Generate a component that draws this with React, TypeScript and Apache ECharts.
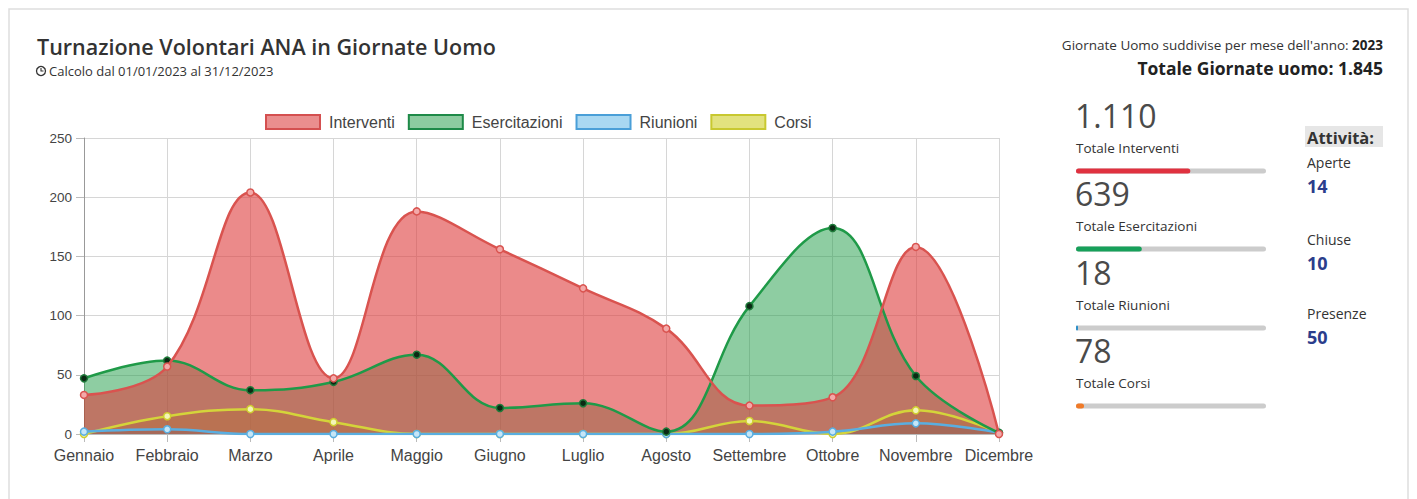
import React, { useEffect, useRef } from "react";
import * as echarts from "echarts";

const months = ["Gennaio", "Febbraio", "Marzo", "Aprile", "Maggio", "Giugno", "Luglio", "Agosto", "Settembre", "Ottobre", "Novembre", "Dicembre"];
const interventi = [33, 57, 204, 47, 188, 156, 123, 89, 24, 31, 158, 0];
const esercitazioni = [47, 62, 37, 44, 67, 22, 26, 2, 108, 174, 49, 1];
const riunioni = [2, 4, 0, 0, 0, 0, 0, 0, 0, 2, 9, 1];
const corsi = [0, 15, 21, 10, 0, 0, 0, 0, 11, 0, 20, 1];
const seriesNames = ["Interventi", "Esercitazioni", "Riunioni", "Corsi"];
const statLabels = ["Totale Interventi", "Totale Esercitazioni", "Totale Riunioni", "Totale Corsi"];
const activityLabels = ["Aperte", "Chiuse", "Presenze"];
const activityValues = [14, 10, 50];
const year = 2023;
const periodText = "Calcolo dal 01/01/2023 al 31/12/2023";

const sum = (a: number[]) => a.reduce((s, v) => s + v, 0);
const fmt = (n: number) => String(n).replace(/\B(?=(\d{3})+(?!\d))/g, ".");

export default function App() {
  const ref = useRef<HTMLDivElement>(null);
  useEffect(() => {
    if (!ref.current) return;
    const chart = echarts.init(ref.current, null, { renderer: "svg" });
    const datasets = [interventi, esercitazioni, riunioni, corsi];
    const styles = [
      { line: "#d9534f", fill: "rgba(221,60,60,0.6)", pt: "#f3a9a9", ptB: "#d9534f", legFill: "#ea8e8e", legB: "#d45050", bar: "#e0313f" },
      { line: "#1f9a48", fill: "rgba(30,155,70,0.5)", pt: "#0b2a14", ptB: "#1f7a3a", legFill: "#8dcca0", legB: "#1e8a48", bar: "#17a05a" },
      { line: "#5aaee0", fill: "rgba(70,160,220,0.6)", pt: "#c6e6f7", ptB: "#5aaee0", legFill: "#a9d8f2", legB: "#4a9fd8", bar: "#2d8fc8" },
      { line: "#d4d43a", fill: "rgba(220,220,70,0.5)", pt: "#f4f4b8", ptB: "#cfcf30", legFill: "#e2e27e", legB: "#c8c830", bar: "#f07a28" },
    ];
    const totals = datasets.map(sum);
    const grand = sum(totals);
    const OS = "'Open Sans'";

    const series: any[] = [];
    datasets.forEach((d, i) => {
      series.push({
        name: seriesNames[i], type: "line", data: d, smooth: 0.4, symbol: "none",
        lineStyle: { width: 0 }, areaStyle: { color: styles[i].fill, opacity: 1 },
        z: 5 - i, silent: true,
      });
    });
    datasets.forEach((d, i) => {
      series.push({
        name: seriesNames[i], type: "line", data: d, smooth: 0.4, symbol: "circle", symbolSize: 7,
        lineStyle: { width: 2.5, color: styles[i].line },
        itemStyle: { color: styles[i].pt, borderColor: styles[i].ptB, borderWidth: 1.5 },
        z: 15 - i, silent: true,
      });
    });

    const graphic: any[] = [
      { type: "rect", z: -10, shape: { x: 1, y: 1, width: 1399, height: 500 }, style: { fill: "#fff", stroke: "#dedede", lineWidth: 1.5 } },
      { type: "text", x: 29, y: 38, style: { text: "Turnazione Volontari ANA in Giornate Uomo", font: `600 21.5px ${OS}`, fill: "#333", textVerticalAlign: "middle" } },
      { type: "circle", shape: { cx: 33, cy: 63, r: 4.5 }, style: { fill: "none", stroke: "#333", lineWidth: 1.3 } },
      { type: "polyline", shape: { points: [[33, 60], [33, 63], [35.5, 63]] }, style: { fill: "none", stroke: "#333", lineWidth: 1.1 } },
      { type: "text", x: 41, y: 63, style: { text: periodText, font: `13px ${OS}`, fill: "#333", textVerticalAlign: "middle" } },
      {
        type: "text", x: 1375, y: 37,
        style: {
          text: "{a|Giornate Uomo suddivise per mese dell'anno: }{b|" + year + "}", textAlign: "right", textVerticalAlign: "middle",
          rich: { a: { font: `13.5px ${OS}`, fill: "#333", color: "#333" }, b: { font: `bold 13.5px ${OS}`, fill: "#222", color: "#222" } },
        },
      },
      { type: "text", x: 1375, y: 60, style: { text: "Totale Giornate uomo: " + fmt(grand), font: `bold 17.5px ${OS}`, fill: "#222", textAlign: "right", textVerticalAlign: "middle" } },
      { type: "rect", shape: { x: 1297, y: 118, width: 78, height: 21 }, style: { fill: "#e6e6e6" } },
      { type: "text", x: 1299, y: 129, style: { text: "Attività:", font: `bold 16.5px ${OS}`, fill: "#333", textVerticalAlign: "middle" } },
    ];
    const numY = [107, 185, 264, 342];
    numY.forEach((y, i) => {
      graphic.push({ type: "text", x: 1067, y, style: { text: fmt(totals[i]), font: `32px ${OS}`, fill: "#4a4a4a", textVerticalAlign: "middle" } });
      graphic.push({ type: "text", x: 1068, y: y + 33, style: { text: statLabels[i], font: `13.5px ${OS}`, fill: "#333", textVerticalAlign: "middle" } });
      graphic.push({ type: "rect", shape: { x: 1068, y: y + 53.5, width: 190, height: 5, r: 2.5 }, style: { fill: "#cccccc" } });
      graphic.push({ type: "rect", shape: { x: 1068, y: y + 53.5, width: Math.max(2, (190 * totals[i]) / grand), height: 5, r: 2.5 }, style: { fill: styles[i].bar } });
    });
    const actY = [154, 231, 305];
    actY.forEach((y, i) => {
      graphic.push({ type: "text", x: 1299, y, style: { text: activityLabels[i], font: `14px ${OS}`, fill: "#333", textVerticalAlign: "middle" } });
      graphic.push({ type: "text", x: 1299, y: y + 24, style: { text: String(activityValues[i]), font: `bold 18px ${OS}`, fill: "#2b3d8c", textVerticalAlign: "middle" } });
    });

    chart.setOption({
      animation: false,
      graphic,
      legend: {
        left: 252, top: 101, itemWidth: 54, itemHeight: 14, itemGap: 13, selectedMode: false,
        textStyle: { fontFamily: "'Liberation Sans', Arial", fontSize: 16, color: "#444", padding: [0, 0, 0, 4] },
        data: seriesNames.map((n, i) => ({ name: n, icon: "rect", itemStyle: { color: styles[i].legFill, borderColor: styles[i].legB, borderWidth: 2 } })),
      },
      grid: { left: 76, right: 410, top: 130, bottom: 65 },
      xAxis: {
        type: "category", boundaryGap: false, data: months,
        axisLine: { show: true, lineStyle: { color: "#bbb" } },
        axisTick: { show: true, length: 8, interval: 0, lineStyle: { color: "#bbb" } },
        splitLine: { show: true, interval: 0, lineStyle: { color: "#d6d6d6" } },
        axisLabel: { color: "#444", fontSize: 16, interval: 0, fontFamily: "'Liberation Sans', Arial", margin: 13 },
      },
      yAxis: {
        type: "value", min: 0, max: 250, interval: 50,
        axisLine: { show: true, lineStyle: { color: "#999" } },
        axisTick: { show: true, length: 8, lineStyle: { color: "#bbb" } },
        splitLine: { show: true, lineStyle: { color: "#d6d6d6" } },
        axisLabel: { color: "#444", fontSize: 13.5, fontFamily: "'Liberation Sans', Arial", margin: 12 },
      },
      series,
    });
    return () => chart.dispose();
  }, []);
  return <div ref={ref} style={{ width: 1401, height: 491 }} />;
}
